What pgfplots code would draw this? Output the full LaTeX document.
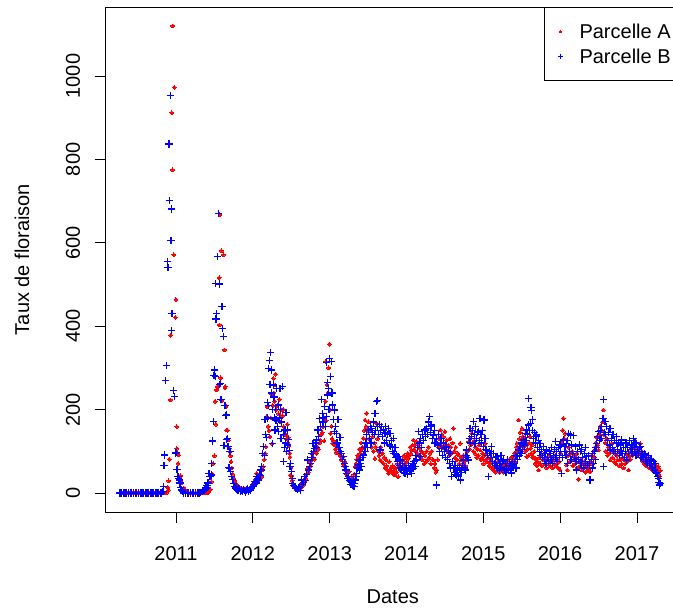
\documentclass[border=0pt]{standalone}
\usepackage{fontspec}
\setmainfont{Liberation Sans}
\usepackage{pgfplots}
\pgfplotsset{compat=1.18}
\pgfplotsset{
  legA/.style={legend image code/.code={\path[draw=none,fill=none] (-6pt,-6pt) rectangle (6pt,6pt); \draw[mark repeat=2,mark phase=2,##1, mark size=1.2pt] plot coordinates {(-6pt,0pt) (0pt,0pt) (6pt,0pt)};}},
  legB/.style={legend image code/.code={\path[draw=none,fill=none] (-6pt,-6pt) rectangle (6pt,6pt); \draw[mark repeat=2,mark phase=2,##1, mark size=2.6pt, mark options={line width=0.8pt}] plot coordinates {(-6pt,0pt) (0pt,0pt) (6pt,0pt)};}},
}
\begin{document}
\begin{tikzpicture}
\begin{axis}[
  at={(0pt,0pt)}, anchor=south west,
  scale only axis, width=574.4pt, height=505pt,
  xmin=30.3, xmax=2761.5, ymin=-45.6, ymax=1165.5,
  xtick={365,730,1096,1461,1826,2191,2557},
  xticklabels={2011,2012,2013,2014,2015,2016,2017},
  ytick={0,200,400,600,800,1000},
  yticklabels={0,200,400,600,800,1000},
  xtick pos=bottom, ytick pos=left,
  tick align=outside, major tick length=11pt,
  axis line style={line width=0.75pt, black},
  tick style={line width=0.75pt, black},
  /pgf/number format/assume math mode=true,
  tick label style={font=\fontsize{20}{24}\selectfont},
  label style={font=\fontsize{20}{24}\selectfont},
  yticklabel style={rotate=90, anchor=south},
  xticklabel shift=20pt, yticklabel shift=11pt,
  xlabel={Dates}, ylabel={Taux de floraison},
  xlabel style={at={(rel axis cs:0.5,-0.1683)}, anchor=center},
  ylabel style={at={(rel axis cs:-0.1455,0.5)}, anchor=center},
  legend style={at={(rel axis cs:0.7635,1)}, anchor=north west, draw=black, line width=0.75pt,
    inner xsep=10pt, inner ysep=15pt, row sep=6pt, font=\fontsize{20}{24}\selectfont,
    nodes={inner xsep=13pt, inner ysep=2pt, text height=14.5pt, text depth=0pt}},
  legend cell align=left,
]
\addplot[only marks, mark=*, mark size=1.9pt, color=red, mark options={draw=red, fill=red, line width=0pt}, legA]
coordinates {
(103,0) (111,0) (119,0) (127,0) (135,0) (143,0) (151,0) (159,0) (167,0) (175,0) (183,0) (191,0) (199,0) (207,0) (215,0) (223,0) (231,0) (239,0) (247,0) (255,0) (263,0) (271,0) (279,0) (287,0) (295,0) (303,0) (311,0) (319,0)
(326,13) (328,7) (330,29) (333,81) (338,223) (340,378) (345,912) (348,775) (350,1120) (355,571) (357,973) (362,421) (365,464) (368,159) (369,107) (371,95) (375,71) (378,91) (379,41) (387,41) (394,25) (403,12) (410,6) (417,3)
(425,0) (433,0) (441,0) (449,0) (457,0) (465,0) (473,0) (481,0) (489,0) (497,0) (505,0) (513,0)
(520,2) (528,8) (534,27) (538,45) (542,71) (548,89) (551,220) (555,165) (558,247) (562,255) (566,255) (570,516) (571,403) (574,667) (578,276) (581,581) (583,221) (590,571) (595,343) (598,253) (600,255) (603,207) (606,151) (610,150) (614,127) (619,107) (622,99) (625,89) (627,75) (631,60) (636,45) (640,35) (645,30) (650,22) (655,18)
(660,15) (666,10) (672,12) (678,6) (684,10) (690,8) (696,5) (702,12) (708,8) (714,10) (720,14) (726,18) (732,20) (738,28) (744,32) (749,47) (755,30) (761,42) (767,35) (773,39) (777,55) (780,63) (785,80) (789,95) (792,111) (796,183) (799,207) (803,160) (807,150) (812,135) (816,180) (820,237) (822,119) (825,210) (828,275) (831,240) (834,220) (836,259) (839,285) (842,200) (844,175) (848,210) (852,190) (856,225) (860,187) (864,170) (868,199) (872,185) (875,201) (877,159) (880,139) (884,150) (888,140) (891,130) (894,165) (896,121) (899,133) (902,113) (905,95) (907,86) (909,43) (912,60) (915,41) (918,30) (922,22) (927,15) (932,12) (937,8) (942,10) (947,14) (952,9) (957,18) (962,15) (967,25) (972,20) (977,30) (982,35) (986,45) (990,59) (994,50)
(1000,63) (1004,75) (1008,70) (1013,94) (1018,85) (1024,81) (1028,100) (1033,95) (1038,110) (1042,105) (1046,120) (1051,127) (1055,140) (1060,145) (1064,159) (1069,125) (1072,180) (1075,220) (1077,315) (1079,173) (1083,260) (1088,240) (1091,300) (1094,357) (1097,200) (1100,143) (1104,160) (1107,130) (1110,119) (1114,125) (1119,115) (1123,105) (1127,97) (1131,110) (1135,115) (1140,95) (1145,90) (1150,80) (1155,85) (1160,70) (1165,65) (1169,75) (1173,55) (1177,45) (1181,40) (1185,35) (1189,51) (1193,30) (1197,25) (1200,39) (1204,28) (1208,35) (1212,45) (1217,63) (1221,70) (1225,80) (1229,90) (1233,85) (1237,105) (1241,95) (1245,120) (1248,105) (1252,110) (1256,131) (1260,150) (1264,175) (1268,160) (1272,191) (1276,150) (1280,171) (1284,130) (1288,150) (1292,120) (1296,110)
(1300,135) (1304,100) (1308,120) (1311,83) (1315,110) (1319,167) (1323,130) (1327,100) (1331,90) (1335,79) (1339,110) (1343,75) (1347,95) (1351,71) (1355,85) (1359,60) (1363,80) (1367,65) (1371,55) (1375,47) (1379,75) (1383,55) (1387,60) (1391,50) (1395,65) (1399,45) (1403,55) (1406,43) (1410,60) (1414,50) (1418,70) (1422,39) (1426,65) (1430,55) (1434,75) (1438,60) (1442,80) (1446,65) (1450,90) (1454,70) (1458,85) (1462,75) (1466,95) (1470,83) (1474,90) (1478,110) (1482,95) (1485,103) (1489,115) (1493,127) (1497,105) (1501,115) (1505,100) (1509,123) (1513,95) (1517,115) (1521,90) (1525,107) (1529,85) (1533,100) (1537,80) (1541,95) (1545,70) (1549,90) (1553,75) (1557,100) (1561,80) (1565,110) (1569,85) (1573,95) (1577,70) (1581,100) (1585,80) (1589,79) (1593,60) (1597,70)
(1601,50) (1605,55) (1609,80) (1613,110) (1617,130) (1621,151) (1625,120) (1629,140) (1633,110) (1637,135) (1641,115) (1644,147) (1648,105) (1652,127) (1656,100) (1660,115) (1664,90) (1668,130) (1672,110) (1676,95) (1680,120) (1684,155) (1688,100) (1692,85) (1696,110) (1700,80) (1704,95) (1708,91) (1712,70) (1716,119) (1720,85) (1724,79) (1728,70) (1732,90) (1736,75) (1740,65) (1742,63) (1746,90) (1750,100) (1753,80) (1756,123) (1760,105) (1764,130) (1767,115) (1771,143) (1775,120) (1779,100) (1783,125) (1787,95) (1791,110) (1795,85) (1799,105) (1803,90) (1807,115) (1811,103) (1815,80) (1819,83) (1823,95) (1827,70) (1831,90) (1835,119) (1837,79) (1841,95) (1845,75) (1849,85) (1853,65) (1858,71) (1862,80) (1866,60) (1870,75) (1875,55) (1879,65) (1883,50) (1887,70) (1891,55) (1895,75) (1899,60)
(1903,50) (1907,65) (1911,55) (1914,63) (1918,70) (1922,50) (1926,65) (1930,59) (1934,75) (1938,55) (1942,80) (1946,60) (1950,70) (1954,71) (1958,85) (1962,65) (1966,80) (1970,87) (1974,95) (1978,75) (1982,110) (1986,119) (1990,100) (1994,175) (1998,130) (2002,145) (2006,120) (2010,155) (2014,135) (2018,110) (2022,125) (2026,100) (2030,115) (2033,87) (2037,105) (2041,90) (2045,120) (2049,135) (2051,107) (2055,95) (2059,115) (2062,85) (2065,87) (2069,100) (2073,71) (2077,80) (2081,65) (2085,75) (2089,55) (2093,85) (2097,70) (2101,90) (2105,65) (2109,80) (2112,79) (2116,95) (2120,70) (2124,85) (2128,60) (2132,80) (2136,70) (2140,90) (2144,65) (2148,75) (2152,85) (2156,60) (2160,80) (2164,70) (2168,90) (2172,65) (2176,71) (2180,80) (2184,60) (2188,75) (2191,55)
(2195,95) (2199,123) (2203,150) (2207,179) (2211,130) (2215,143) (2219,100) (2223,67) (2225,55) (2229,90) (2233,110) (2237,75) (2241,95) (2245,80) (2249,100) (2252,65) (2255,79) (2259,90) (2263,70) (2267,85) (2271,95) (2275,60) (2279,33) (2283,75) (2287,65) (2291,80) (2295,55) (2299,70) (2303,60) (2307,75) (2311,50) (2314,65) (2318,63) (2322,55) (2326,70) (2330,60) (2334,51) (2338,75) (2342,90) (2346,70) (2350,100) (2354,85) (2358,110) (2362,120) (2366,133) (2370,115) (2374,103) (2378,140) (2382,159) (2386,130) (2390,150) (2394,170) (2397,199) (2401,140) (2405,120) (2409,100) (2413,130) (2417,90) (2421,110) (2425,95) (2429,79) (2433,100) (2437,119) (2441,85) (2445,105) (2449,75) (2453,95) (2457,70) (2461,90) (2465,80) (2469,100) (2473,65) (2477,79) (2481,95) (2485,70) (2489,85) (2493,60) (2497,80)
(2501,70) (2505,95) (2509,75) (2513,85) (2517,55) (2521,90) (2525,80) (2529,100) (2532,107) (2536,90) (2540,115) (2544,95) (2548,125) (2552,100) (2556,110) (2560,90) (2564,105) (2568,95) (2572,119) (2576,85) (2580,100) (2584,75) (2588,90) (2592,70) (2596,85) (2600,65) (2604,79) (2608,70) (2612,85) (2616,60) (2620,75) (2624,65) (2628,80) (2632,55) (2636,67) (2640,70) (2644,55) (2648,65) (2652,50) (2655,60) (2658,63) (2661,45) (2664,40) (2667,53)
};
\addlegendentry{Parcelle A}
\addplot[only marks, mark=+, mark size=3.6pt, color=blue, mark options={line width=1.2pt}, legB]
coordinates {
(99,0) (107,0) (115,0) (123,0) (131,0) (139,0) (147,0) (155,0) (163,0) (171,0) (179,0) (187,0) (195,0) (203,0) (211,0) (219,0) (227,0) (235,0) (243,0) (251,0) (259,0) (267,0) (275,0) (283,0) (291,0) (298,0)
(303,4) (304,15) (308,65) (311,91) (314,270) (319,305) (323,556) (327,541) (332,837) (333,702) (338,953) (341,605) (342,390) (345,681) (346,431) (352,245) (357,231) (362,94) (365,98) (368,57) (371,57) (375,40) (378,35) (381,31) (384,24) (388,14) (392,7) (396,3)
(402,0) (410,0) (418,0) (426,0) (434,0) (442,0) (450,0) (458,0) (466,0) (474,0) (482,1) (490,3) (498,5)
(503,8) (508,12) (512,18) (517,24) (522,47) (527,39) (532,43) (535,70) (538,123) (540,125) (543,171) (546,281) (549,295) (551,279) (554,503) (555,417) (559,430) (562,567) (568,671) (571,501) (573,261) (576,263) (578,225) (582,225) (584,447) (587,395) (590,376) (593,113) (598,209) (600,209) (603,185) (605,187) (606,129) (609,131) (612,111) (614,111) (617,62) (619,59) (622,99) (625,51) (630,40) (635,33) (640,22) (644,15)
(650,12) (655,8) (660,5) (665,10) (670,4) (675,7) (680,3) (685,9) (690,5) (695,2) (700,7) (705,11) (710,4) (715,8) (720,6) (725,12) (731,15) (736,20) (741,28) (745,24) (749,39) (753,35) (757,31) (761,45) (765,41) (769,55) (773,63) (777,95) (780,111) (784,90) (788,177) (792,140) (796,133) (799,217) (802,180) (804,209) (806,298) (809,317) (812,260) (815,337) (818,240) (820,295) (822,118) (825,200) (828,259) (831,230) (834,180) (836,151) (839,200) (841,175) (844,251) (848,160) (852,211) (854,147) (857,180) (860,251) (862,201) (864,131) (868,170) (872,255) (875,75) (878,140) (881,110) (883,151) (886,120) (888,193) (891,100) (894,151) (897,115) (899,129) (903,101) (907,63) (911,70) (915,51) (918,35) (920,23) (925,18) (931,15) (936,10) (941,8) (946,12) (952,15) (956,6) (960,31) (965,20) (970,25) (976,39) (980,30) (985,45) (992,79) (996,55)
(1000,63) (1004,70) (1008,95) (1012,85) (1016,119) (1020,100) (1024,107) (1028,120) (1032,110) (1035,127) (1040,151) (1044,135) (1048,179) (1052,160) (1056,225) (1060,190) (1064,170) (1068,180) (1072,207) (1076,160) (1080,183) (1082,312) (1085,264) (1087,235) (1090,250) (1093,200) (1096,323) (1099,280) (1103,315) (1107,240) (1111,211) (1114,177) (1117,199) (1119,147) (1123,160) (1127,143) (1131,120) (1135,177) (1140,110) (1145,133) (1149,100) (1153,95) (1157,80) (1161,87) (1165,70) (1169,63) (1173,55) (1177,47) (1181,35) (1185,39) (1189,30) (1193,27) (1197,20) (1201,25) (1205,18) (1209,31) (1211,15) (1214,22) (1217,31) (1221,40) (1225,47) (1229,60) (1232,67) (1236,55) (1240,79) (1244,70) (1248,63) (1252,85) (1256,91) (1260,110) (1264,99) (1268,120) (1272,140) (1276,110) (1280,151) (1284,130) (1288,160) (1292,120) (1296,155)
(1300,145) (1304,170) (1308,140) (1311,191) (1315,150) (1319,219) (1322,160) (1324,221) (1327,140) (1331,165) (1335,103) (1339,150) (1343,159) (1347,135) (1351,151) (1355,120) (1359,145) (1363,160) (1367,125) (1371,140) (1375,155) (1379,115) (1383,143) (1385,111) (1390,125) (1394,100) (1398,131) (1402,95) (1406,110) (1410,85) (1414,91) (1418,75) (1422,87) (1426,65) (1430,79) (1434,60) (1438,55) (1442,70) (1446,50) (1450,62) (1454,47) (1458,58) (1462,55) (1466,45) (1470,65) (1474,55) (1478,51) (1482,60) (1485,47) (1490,70) (1494,58) (1497,75) (1501,63) (1505,90) (1509,79) (1513,110) (1517,147) (1521,120) (1525,87) (1529,130) (1533,110) (1537,140) (1541,125) (1545,150) (1549,151) (1553,135) (1557,155) (1561,140) (1565,170) (1570,183) (1574,145) (1578,160) (1581,163) (1585,130) (1589,139) (1593,150) (1597,120)
(1602,19) (1605,131) (1609,115) (1613,140) (1617,100) (1621,119) (1625,130) (1629,107) (1633,90) (1637,120) (1641,100) (1645,85) (1649,110) (1652,111) (1656,80) (1660,100) (1664,70) (1668,95) (1672,60) (1676,39) (1680,75) (1684,59) (1688,50) (1692,65) (1696,45) (1700,43) (1704,55) (1708,40) (1712,60) (1716,31) (1720,50) (1724,55) (1728,65) (1732,79) (1736,60) (1740,55) (1744,90) (1748,103) (1752,85) (1756,79) (1760,130) (1763,155) (1767,120) (1771,135) (1775,150) (1779,171) (1783,140) (1787,119) (1791,160) (1795,130) (1799,145) (1803,147) (1807,125) (1811,179) (1815,140) (1819,120) (1823,150) (1827,111) (1830,175) (1834,130) (1838,105) (1843,103) (1847,90) (1851,39) (1855,100) (1859,85) (1863,95) (1867,111) (1871,75) (1875,95) (1879,70) (1883,85) (1887,65) (1891,87) (1895,60) (1899,80)
(1902,55) (1906,71) (1910,90) (1914,60) (1918,75) (1922,79) (1926,55) (1930,70) (1934,50) (1938,63) (1942,80) (1946,58) (1950,70) (1954,55) (1958,65) (1962,48) (1966,75) (1970,63) (1974,70) (1978,90) (1982,60) (1986,87) (1990,80) (1994,103) (1998,90) (2001,111) (2005,95) (2009,120) (2013,105) (2017,127) (2021,115) (2025,143) (2029,125) (2033,151) (2037,140) (2041,163) (2043,227) (2046,150) (2049,167) (2053,205) (2057,197) (2060,150) (2062,177) (2066,130) (2070,145) (2074,120) (2077,135) (2080,139) (2084,110) (2088,125) (2092,100) (2096,119) (2100,90) (2104,105) (2108,85) (2112,111) (2116,80) (2120,95) (2124,70) (2128,103) (2132,85) (2136,75) (2140,100) (2144,95) (2148,80) (2152,110) (2156,70) (2160,90) (2164,105) (2168,123) (2172,85) (2176,100) (2180,75) (2184,110) (2188,90)
(2191,115) (2194,99) (2199,47) (2203,85) (2207,127) (2211,100) (2215,111) (2219,90) (2223,119) (2225,71) (2228,125) (2231,143) (2235,100) (2239,139) (2243,80) (2247,115) (2251,95) (2255,137) (2259,85) (2263,111) (2267,75) (2271,55) (2275,100) (2279,80) (2283,115) (2287,99) (2291,70) (2295,105) (2299,85) (2303,60) (2307,95) (2311,75) (2314,110) (2318,87) (2322,65) (2326,90) (2330,70) (2334,31) (2336,30) (2340,80) (2344,95) (2347,60) (2350,71) (2354,100) (2358,80) (2362,110) (2366,119) (2370,135) (2374,147) (2378,125) (2382,150) (2386,130) (2390,160) (2395,179) (2397,225) (2399,63) (2402,145) (2405,171) (2409,140) (2413,160) (2417,125) (2421,145) (2425,115) (2429,155) (2431,103) (2435,130) (2439,110) (2443,140) (2447,100) (2451,125) (2455,95) (2458,120) (2461,135) (2465,105) (2469,120) (2473,90) (2477,115) (2481,100) (2485,127) (2489,95) (2493,110) (2497,85)
(2501,99) (2505,120) (2509,79) (2513,110) (2517,95) (2521,125) (2525,105) (2529,115) (2533,95) (2537,110) (2540,131) (2544,100) (2548,120) (2552,90) (2556,119) (2560,105) (2564,95) (2568,110) (2572,111) (2576,85) (2580,100) (2584,90) (2588,80) (2592,95) (2596,91) (2600,75) (2604,85) (2608,70) (2612,90) (2616,65) (2620,80) (2624,70) (2627,79) (2631,60) (2635,75) (2639,55) (2643,71) (2647,50) (2651,47) (2654,40) (2658,35) (2662,25) (2665,19) (2667,22)
};
\addlegendentry{Parcelle B}
\end{axis}
\pgfresetboundingbox
\path[use as bounding box] (-105.6pt,-100pt) rectangle (567.4pt,512pt);
\end{tikzpicture}
\end{document}
